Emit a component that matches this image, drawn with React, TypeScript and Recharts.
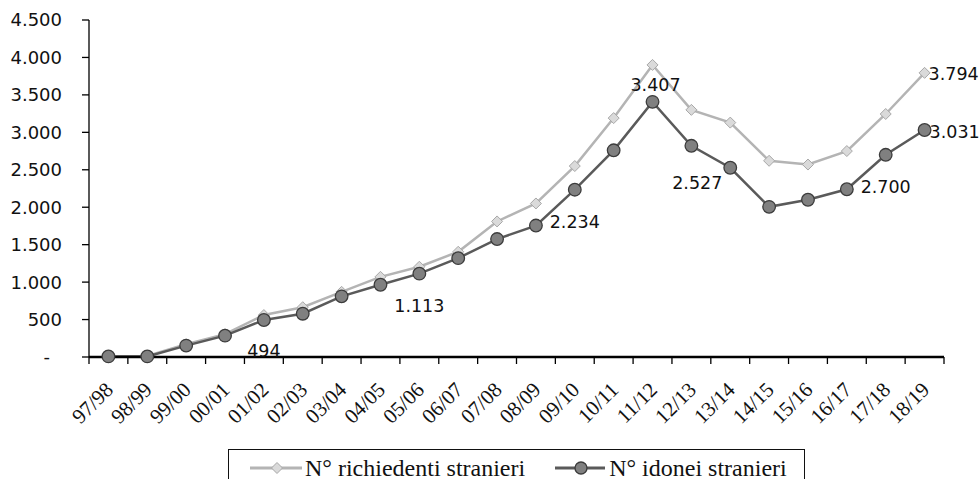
import React from 'react';
import { LineChart, Line, XAxis, YAxis, Legend, LabelList } from 'recharts';

const stagioni = [
    '97/98', '98/99', '99/00', '00/01', '01/02', '02/03', '03/04', '04/05', '05/06', '06/07', '07/08',
    '08/09', '09/10', '10/11', '11/12', '12/13', '13/14', '14/15', '15/16', '16/17', '17/18', '18/19'
];
const richiedenti = [
    10, 15, 170, 305, 560, 665, 870, 1070, 1205, 1405, 1810,
    2050, 2550, 3190, 3900, 3300, 3130, 2620, 2570, 2750, 3245, 3794
];
const idonei = [
    8, 8, 152, 285, 494, 578, 810, 965, 1113, 1320, 1575,
    1755, 2234, 2760, 3407, 2820, 2527, 2005, 2100, 2240, 2700, 3031
];
const yTicks = [0, 500, 1000, 1500, 2000, 2500, 3000, 3500, 4000, 4500];

// which points get a value label, and how far the text sits from the marker
const etichetteIdonei: Record<number, { dx: number; dy: number; anchor: string }> = {
    4: { dx: 0, dy: 31, anchor: 'middle' },
    8: { dx: 0, dy: 32, anchor: 'middle' },
    12: { dx: 0, dy: 32, anchor: 'middle' },
    14: { dx: 3, dy: -17, anchor: 'middle' },
    16: { dx: -33, dy: 15, anchor: 'middle' },
    20: { dx: 0, dy: 32, anchor: 'middle' },
    21: { dx: 5, dy: 2, anchor: 'start' },
};
const etichetteRichiedenti: Record<number, { dx: number; dy: number; anchor: string }> = {
    21: { dx: 4, dy: 1, anchor: 'start' },
};

const W = 979;
const H = 479;
const MARGIN = { top: 20, right: 35, left: 0, bottom: 52 };
const Y_WIDTH = 89;
const PASSO = (W - MARGIN.left - MARGIN.right - Y_WIDTH) / stagioni.length;

const data = stagioni.map((s, i) => ({ stagione: s, richiedenti: richiedenti[i], idonei: idonei[i] }));

const fmtMigliaia = (v: number) => String(v).replace(/\B(?=(\d{3})+(?!\d))/g, '.');

const GRIGIO_CHIARO = '#b4b4b4';
const GRIGIO_SCURO = '#5a5a5a';

const Rombo = (props: any) => {
    const { cx, cy } = props;
    if (cx == null || cy == null) return null;
    const s = 5.5;
    return (
        <polygon
            points={`${cx},${cy - s} ${cx + s},${cy} ${cx},${cy + s} ${cx - s},${cy}`}
            fill="#dadada"
            stroke="#a8a8a8"
            strokeWidth={1}
        />
    );
};

const Cerchio = (props: any) => {
    const { cx, cy } = props;
    if (cx == null || cy == null) return null;
    return <circle cx={cx} cy={cy} r={6.3} fill="#808080" stroke="#3c3c3c" strokeWidth={1.3} />;
};

const TickY = (props: any) => {
    const { x, y, payload } = props;
    const v = payload.value as number;
    return (
        <text
            x={v === 0 ? x - 12 : x}
            y={y}
            dy="0.355em"
            textAnchor="end"
            fontFamily="DejaVu Sans"
            fontSize={18}
            fill="#111"
        >
            {v === 0 ? '-' : fmtMigliaia(v)}
        </text>
    );
};

// season label rotated 45°, plus the short marks on the boundaries between seasons
const TickX = (props: any) => {
    const { x, y, payload, index } = props;
    const tx = x + 6;
    const ty = y + 34;
    const sx = x - PASSO / 2;
    const dx = x + PASSO / 2;
    return (
        <g>
            <line x1={sx} x2={sx} y1={y} y2={y + 7} stroke="#000" strokeWidth={1.3} />
            {index === stagioni.length - 1 && <line x1={dx} x2={dx} y1={y} y2={y + 7} stroke="#000" strokeWidth={1.3} />}
            <text
                x={tx}
                y={ty}
                textAnchor="end"
                transform={`rotate(-45, ${tx}, ${ty})`}
                fontFamily="Liberation Serif"
                fontSize={21}
                fill="#111"
            >
                {payload.value}
            </text>
        </g>
    );
};

const etichetta = (conf: Record<number, { dx: number; dy: number; anchor: string }>) => (props: any) => {
    const { index, value } = props;
    const c = conf[index];
    if (!c) return null;
    const vb = props.viewBox;
    const x = props.x ?? (vb ? vb.x + (vb.width || 0) / 2 : 0);
    const y = props.y ?? (vb ? vb.y + (vb.height || 0) / 2 : 0);
    return (
        <text
            x={x + c.dx}
            y={y + c.dy}
            dy="0.36em"
            textAnchor={c.anchor}
            fontFamily="DejaVu Sans"
            fontSize={17.5}
            fill="#111"
        >
            {fmtMigliaia(value)}
        </text>
    );
};

const Legenda = () => (
    <div
        style={{
            boxSizing: 'border-box',
            width: 577,
            height: 40,
            border: '1px solid #111',
            background: '#fff',
            display: 'flex',
            alignItems: 'center',
            paddingLeft: 21,
            paddingBottom: 2,
            fontFamily: 'Liberation Serif',
            fontSize: 24,
            lineHeight: '24px',
            color: '#111',
            whiteSpace: 'nowrap',
        }}
    >
        <svg width={52} height={14} style={{ display: 'block' }}>
            <line x1={0} x2={52} y1={7} y2={7} stroke={GRIGIO_CHIARO} strokeWidth={3} />
            <polygon points="27,1.5 32.5,7 27,12.5 21.5,7" fill="#dadada" stroke="#a8a8a8" strokeWidth={1} />
        </svg>
        <span style={{ marginLeft: 3 }}>N° richiedenti stranieri</span>
        <svg width={50} height={14} style={{ display: 'block', marginLeft: 30 }}>
            <line x1={0} x2={50} y1={7} y2={7} stroke={GRIGIO_SCURO} strokeWidth={3} />
            <circle cx={26} cy={7} r={6} fill="#808080" stroke="#3c3c3c" strokeWidth={1.3} />
        </svg>
        <span style={{ marginLeft: 4 }}>N° idonei stranieri</span>
    </div>
);

export default function App() {
    return (
        <div style={{ position: 'absolute', left: 0, top: 0, width: W, height: H, background: '#fff', overflow: 'hidden' }}>
            <LineChart width={W} height={H} data={data} margin={MARGIN}>
                <XAxis
                    dataKey="stagione"
                    interval={0}
                    height={70}
                    padding={{ left: PASSO / 2, right: PASSO / 2 }}
                    axisLine={{ stroke: '#000', strokeWidth: 2.5 }}
                    tickLine={false}
                    tickSize={0}
                    tickMargin={0}
                    tick={<TickX />}
                />
                <YAxis
                    width={Y_WIDTH}
                    domain={[0, 4500]}
                    ticks={yTicks}
                    interval={0}
                    axisLine={{ stroke: '#000', strokeWidth: 1.3 }}
                    tickLine={{ stroke: '#000', strokeWidth: 1.3 }}
                    tickSize={7}
                    tickMargin={20}
                    tick={<TickY />}
                />
                <Legend
                    layout="horizontal"
                    verticalAlign="middle"
                    align="center"
                    content={() => <Legenda />}
                    wrapperStyle={{ top: 449, left: 228, width: 577, height: 40 }}
                />
                <Line
                    type="linear"
                    dataKey="richiedenti"
                    name="N° richiedenti stranieri"
                    stroke={GRIGIO_CHIARO}
                    strokeWidth={2.5}
                    dot={<Rombo />}
                    activeDot={false}
                    isAnimationActive={false}
                >
                    <LabelList dataKey="richiedenti" content={etichetta(etichetteRichiedenti)} />
                </Line>
                <Line
                    type="linear"
                    dataKey="idonei"
                    name="N° idonei stranieri"
                    stroke={GRIGIO_SCURO}
                    strokeWidth={2.5}
                    dot={<Cerchio />}
                    activeDot={false}
                    isAnimationActive={false}
                >
                    <LabelList dataKey="idonei" content={etichetta(etichetteIdonei)} />
                </Line>
            </LineChart>
        </div>
    );
}
